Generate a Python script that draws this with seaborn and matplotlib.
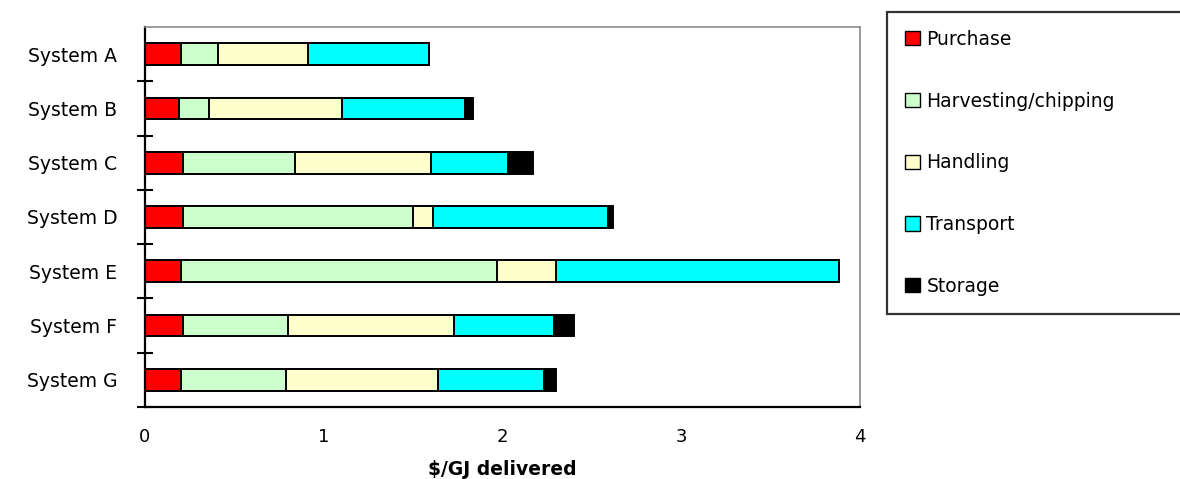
import matplotlib
matplotlib.use("Agg")
import matplotlib.pyplot as plt
import numpy as np
import pandas as pd
import seaborn as sns

systems = ["System A", "System B", "System C", "System D", "System E", "System F", "System G"]
purchase = [0.20, 0.19, 0.21, 0.21, 0.20, 0.21, 0.20]
harvesting = [0.21, 0.17, 0.63, 1.29, 1.77, 0.59, 0.59]
handling = [0.50, 0.74, 0.76, 0.11, 0.33, 0.93, 0.85]
transport = [0.68, 0.69, 0.43, 0.98, 1.58, 0.56, 0.59]
storage = [0.00, 0.045, 0.14, 0.03, 0.00, 0.11, 0.07]

components = ["Purchase", "Harvesting/chipping", "Handling", "Transport", "Storage"]
colors = ["#FF0000", "#CCFFCC", "#FFFFCC", "#00FFFF", "#000000"]
x_ticks = [0, 1, 2, 3, 4]

sns.set_theme(style="white")
plt.rcParams["font.family"] = ["DejaVu Sans"]
plt.rcParams["text.color"] = "black"

df = pd.DataFrame({"system": systems, "Purchase": purchase,
                   "Harvesting/chipping": harvesting, "Handling": handling,
                   "Transport": transport, "Storage": storage})
cum = df[components].cumsum(axis=1)

fig = plt.figure(figsize=(11.8, 4.79), dpi=100)
ax = fig.add_axes([145 / 1180, 1 - 407 / 479, 715 / 1180, 380 / 479])

# stacked bars: draw running totals from the outermost segment inward
for comp, col in reversed(list(zip(components, colors))):
    sns.barplot(data=cum.assign(system=systems), x=comp, y="system", orient="h",
                color=col, saturation=1, width=0.4, edgecolor="black",
                linewidth=1.4, ax=ax, label=comp)

handles, labels = ax.get_legend_handles_labels()
if ax.get_legend() is not None:
    ax.get_legend().remove()

ax.set_xlim(0, 4)
ax.set_ylim(6.5, -0.5)
ax.set_xticks(x_ticks)
ax.set_xticklabels([str(t) for t in x_ticks])
ax.tick_params(axis="x", length=0, pad=15, labelsize=13, colors="black")
ax.tick_params(axis="y", which="major", length=0, pad=20, labelsize=13.5, colors="black")
ax.set_yticks(np.arange(0.5, 7, 1.0), minor=True)
ax.tick_params(axis="y", which="minor", direction="inout", length=11, width=1.5,
               color="black", left=True)
ax.set_ylabel("")
ax.set_xlabel("$/GJ delivered", fontsize=13.5, fontweight="bold", labelpad=10,
              color="black")

for side in ("left", "bottom"):
    ax.spines[side].set_color("black")
    ax.spines[side].set_linewidth(1.6)
for side in ("top", "right"):
    ax.spines[side].set_color("#8a8a8a")
    ax.spines[side].set_linewidth(1.2)

order = [labels.index(c) for c in components]
leg = fig.legend([handles[i] for i in order], [labels[i] for i in order],
                 loc="upper left",
                 bbox_to_anchor=(887 / 1180, 1 - 12 / 479, 300 / 1180, 0.0),
                 mode="expand", fontsize=13.5, frameon=True, fancybox=False,
                 edgecolor="black", handlelength=0.8, handleheight=0.8,
                 handletextpad=0.35, labelspacing=2.28, borderpad=0.95,
                 borderaxespad=0.0, labelcolor="black")
leg.get_frame().set_linewidth(1.6)
for h in leg.legend_handles:
    h.set_edgecolor("black")
    h.set_linewidth(1.0)

fig.savefig("out.png", dpi=100)
